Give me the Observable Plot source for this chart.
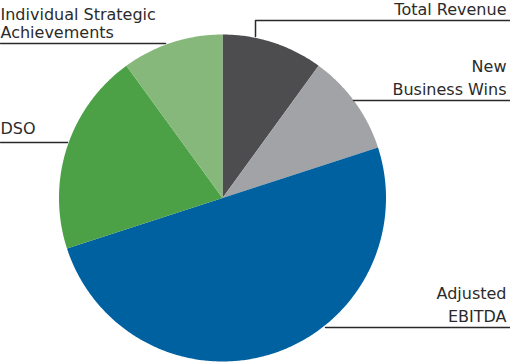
<!DOCTYPE html>
<html>
<head>
<meta charset="utf-8">
<script src="https://cdn.jsdelivr.net/npm/d3@7"></script>
<script src="https://cdn.jsdelivr.net/npm/@observablehq/plot@0.6"></script>
<style>
  html, body { margin: 0; padding: 0; background: #fff; }
  #chart svg { display: block; }
</style>
</head>
<body>
<div id="chart"></div>
<script>
// ---- data ----
const categories = ["Total Revenue", "New Business Wins", "Adjusted EBITDA", "DSO", "Individual Strategic Achievements"];
const weights = [10, 10, 50, 20, 10];
const colors = ["#4d4d4f", "#a2a3a6", "#0061a0", "#4ca046", "#85b87a"];
const labelTexts = ["Total Revenue", "New\nBusiness Wins", "Adjusted\nEBITDA", "DSO", "Individual Strategic\nAchievements"];

// ---- layout ----
const W = 510, H = 363;
const cx = 222, cy = 197.5, R = 163.5;

// slices via d3.pie (clockwise from top, in given order)
const pie = d3.pie().sort(null).value(d => d)(weights);
const slicePts = [];
pie.forEach((p, i) => {
  slicePts.push({cat: categories[i], px: cx, py: cy});
  const n = Math.max(2, Math.ceil((p.endAngle - p.startAngle) / 0.01));
  for (let k = 0; k <= n; k++) {
    const a = p.startAngle + (p.endAngle - p.startAngle) * k / n;
    slicePts.push({cat: categories[i], px: cx + R * Math.sin(a), py: cy - R * Math.cos(a)});
  }
});

// leader lines (pixel layout)
const leaders = [
  {cat: "Total Revenue", pts: [[255, 36], [255, 20], [510, 20]]},
  {cat: "New Business Wins", pts: [[353, 100], [510, 100]]},
  {cat: "Adjusted EBITDA", pts: [[325, 327], [510, 327]]},
  {cat: "DSO", pts: [[0, 142], [67, 142]]},
  {cat: "Individual Strategic Achievements", pts: [[0, 43], [165, 43]]}
];
const leaderPts = leaders.flatMap(l => l.pts.map(([x, y]) => ({cat: l.cat, px: x, py: y})));

// label anchors: x, baseline of last line, alignment, line height (em)
const labelPos = [
  {x: 506, y: 14, anchor: "end", lh: 1.4},
  {x: 506, y: 94, anchor: "end", lh: 1.4},
  {x: 506, y: 321, anchor: "end", lh: 1.4},
  {x: 0, y: 133, anchor: "start", lh: 1.1},
  {x: 0, y: 37, anchor: "start", lh: 1.1}
];
const labels = labelTexts.map((t, i) => ({t, px: labelPos[i].x, py: labelPos[i].y, anchor: labelPos[i].anchor, lh: labelPos[i].lh}));

const textMark = (anchor, lh) => Plot.text(labels.filter(d => d.anchor === anchor && d.lh === lh), {
  x: "px", y: "py", text: "t", textAnchor: anchor, lineAnchor: "bottom",
  lineHeight: lh, fontSize: 16, fill: "#2b2b2b"
});

const chart = Plot.plot({
  width: W, height: H,
  margin: 0,
  x: {domain: [0, W], range: [0, W], axis: null},
  y: {domain: [0, H], range: [0, H], axis: null},
  color: {domain: categories, range: colors},
  style: {fontFamily: "DejaVu Sans, sans-serif", background: "#fff"},
  marks: [
    Plot.line(slicePts, {x: "px", y: "py", z: "cat", fill: "cat", stroke: null, curve: "linear-closed"}),
    Plot.line(leaderPts, {x: "px", y: "py", z: "cat", stroke: "#2a2a2a", strokeWidth: 1.5}),
    textMark("end", 1.4),
    textMark("start", 1.1)
  ]
});
document.getElementById("chart").appendChild(chart);
</script>
</body>
</html>
